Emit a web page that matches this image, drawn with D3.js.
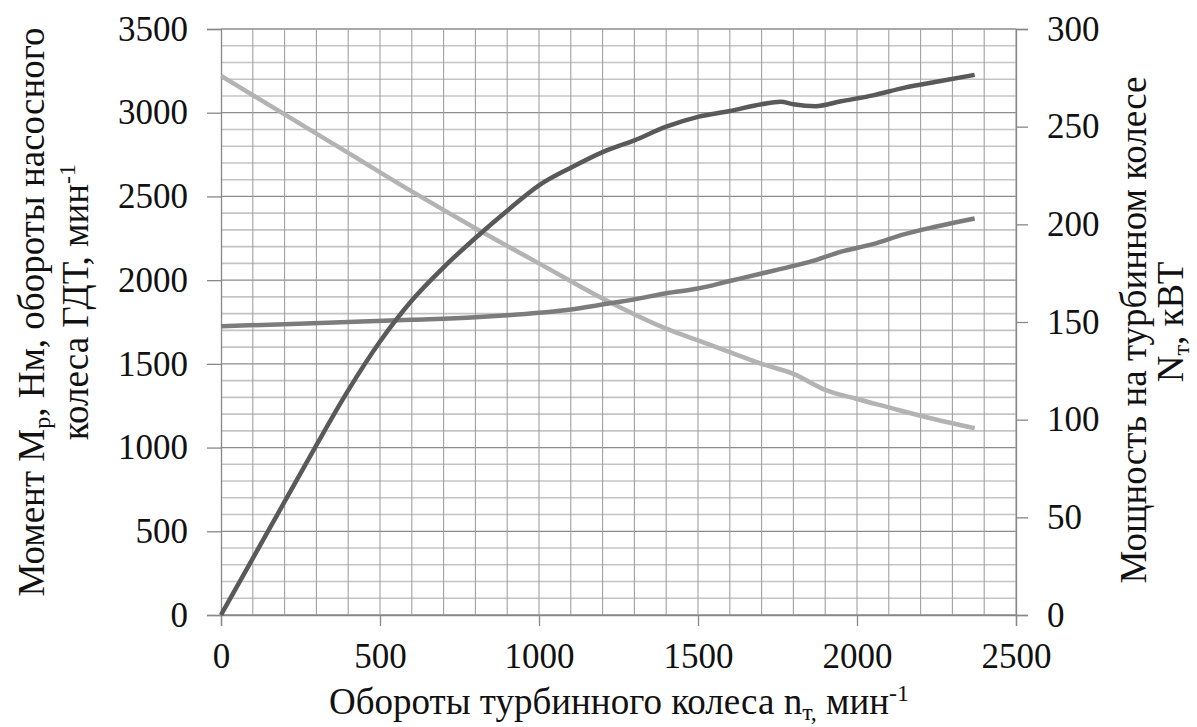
<!DOCTYPE html>
<html>
<head>
<meta charset="utf-8">
<script src="https://cdn.jsdelivr.net/npm/d3@7"></script>
<style>
  body { margin: 0; background: #fff; }
  svg text { font-family: "Liberation Serif", "Times New Roman", serif; fill: #111; }
</style>
</head>
<body>
<div id="chart"></div>
<script>
// turbine wheel speed, min^-1
let speedPower = [0, 100, 200, 300, 400, 500, 600, 700, 800, 900, 1000, 1100, 1200, 1300, 1400, 1500, 1600, 1700, 1760, 1800, 1870, 1950, 2050, 2150, 2250, 2370];
// power on turbine wheel, kW (right axis)
let power = [0, 29, 58, 87, 115, 140, 161, 178, 193, 207, 220, 229, 237, 243, 250, 255, 258, 261.5, 262.8, 261.5, 260.5, 263, 266, 270, 273, 276.5];

let speedPump = [0, 200, 400, 600, 800, 900, 1000, 1100, 1200, 1300, 1400, 1500, 1600, 1700, 1800, 1870, 1950, 2050, 2150, 2250, 2370];
// pump wheel speed, min^-1 (left axis)
let pumpSpeed = [1725, 1737, 1750, 1763, 1778, 1790, 1805, 1825, 1855, 1885, 1922, 1950, 1995, 2040, 2085, 2120, 2170, 2215, 2275, 2320, 2368];

let speedTorque = [0, 200, 400, 600, 800, 1000, 1200, 1400, 1500, 1600, 1700, 1800, 1900, 2000, 2100, 2200, 2370];
// torque M_p, Nm (left axis)
let torque = [3220, 2990, 2760, 2530, 2310, 2100, 1890, 1710, 1640, 1570, 1500, 1440, 1345, 1290, 1240, 1190, 1115];

let xTicks = [0, 500, 1000, 1500, 2000, 2500];
let yLeftTicks = [0, 500, 1000, 1500, 2000, 2500, 3000, 3500];
let yRightTicks = [0, 50, 100, 150, 200, 250, 300];

let W = 1197, H = 727;
let plot = {left: 221, right: 1016, top: 29, bottom: 615};
let serif = "'Liberation Serif', 'Times New Roman', serif";

let svg = d3.select("#chart").append("svg")
    .attr("width", W)
    .attr("height", H)
    .attr("font-family", serif);

let x = d3.scaleLinear().domain([0, 2500]).range([plot.left, plot.right]);
let yL = d3.scaleLinear().domain([0, 3500]).range([plot.bottom, plot.top]);
let yR = d3.scaleLinear().domain([0, 300]).range([plot.bottom, plot.top]);

// grid
let grid = svg.append("g");
grid.selectAll(".hmin")
    .data(d3.range(0, 3501, 100))
    .enter().append("line")
    .attr("x1", plot.left).attr("x2", plot.right)
    .attr("y1", d => yL(d)).attr("y2", d => yL(d))
    .attr("stroke", d => d % 500 == 0 ? "#8c8c8c" : "#c4c4c4")
    .attr("stroke-width", d => d % 500 == 0 ? 1.3 : 1.6);
grid.selectAll(".vmin")
    .data(d3.range(100, 2501, 100))
    .enter().append("line")
    .attr("x1", d => x(d)).attr("x2", d => x(d))
    .attr("y1", plot.top).attr("y2", plot.bottom)
    .attr("stroke", "#a0a0a0")
    .attr("stroke-width", 1.1);

// axes
let axisColor = "#888";
let fmt = d3.format("d");
let xAxis = svg.append("g")
    .attr("transform", "translate(0," + plot.bottom + ")")
    .call(d3.axisBottom(x).tickValues(xTicks).tickFormat(fmt).tickSize(11).tickPadding(14));
let yAxisL = svg.append("g")
    .attr("transform", "translate(" + plot.left + ",0)")
    .call(d3.axisLeft(yL).tickValues(yLeftTicks).tickFormat(fmt).tickSize(14).tickPadding(19));
let yAxisR = svg.append("g")
    .attr("transform", "translate(" + plot.right + ",0)")
    .call(d3.axisRight(yR).tickValues(yRightTicks).tickFormat(fmt).tickSize(12).tickPadding(19));

[xAxis, yAxisL, yAxisR].forEach(function(a) {
    a.attr("font-family", serif);
    a.select(".domain").attr("stroke", axisColor).attr("stroke-width", 1.3);
    a.selectAll(".tick line").attr("stroke", axisColor).attr("stroke-width", 1.3);
    a.selectAll(".tick text")
        .attr("fill", "#111")
        .style("font-family", serif)
        .style("font-size", "35px");
});
xAxis.selectAll(".tick text").attr("dy", "0.8em");

// curves
let line = d3.line().curve(d3.curveMonotoneX);

svg.append("path")
    .datum(speedTorque.map((s, i) => [x(s), yL(torque[i])]))
    .attr("d", line)
    .attr("fill", "none")
    .attr("stroke", "#b3b3b3")
    .attr("stroke-width", 4.5);

svg.append("path")
    .datum(speedPump.map((s, i) => [x(s), yL(pumpSpeed[i])]))
    .attr("d", line)
    .attr("fill", "none")
    .attr("stroke", "#7c7c7c")
    .attr("stroke-width", 4.5);

svg.append("path")
    .datum(speedPower.map((s, i) => [x(s), yR(power[i])]))
    .attr("d", line)
    .attr("fill", "none")
    .attr("stroke", "#595959")
    .attr("stroke-width", 4.5);

// axis titles
let titleSize = "37px";
let subSize = "24px";

function addTitle(tx, ty, rotate) {
    return svg.append("text")
        .attr("transform", "translate(" + tx + "," + ty + ")" + (rotate ? " rotate(-90)" : ""))
        .attr("text-anchor", "middle")
        .style("font-family", serif)
        .style("font-size", titleSize);
}

let xt = addTitle(619, 714, false);
xt.append("tspan").text("Обороты турбинного колеса n");
xt.append("tspan").attr("baseline-shift", "-25%").style("font-size", subSize).text("т,");
xt.append("tspan").text(" мин");
xt.append("tspan").attr("baseline-shift", "super").style("font-size", subSize).text("-1");

let lt1 = addTitle(44, 312, true);
lt1.append("tspan").text("Момент M");
lt1.append("tspan").attr("baseline-shift", "-25%").style("font-size", subSize).text("р");
lt1.append("tspan").text(", Нм, обороты насосного");

let lt2 = addTitle(88, 302, true);
lt2.append("tspan").text("колеса ГДТ, мин");
lt2.append("tspan").attr("baseline-shift", "super").style("font-size", subSize).text("-1");

let rt1 = addTitle(1146, 330, true);
rt1.text("Мощность на турбинном колесе");

let rt2 = addTitle(1183, 322, true);
rt2.append("tspan").text("N");
rt2.append("tspan").attr("baseline-shift", "-25%").style("font-size", subSize).text("т");
rt2.append("tspan").text(", кВТ");
</script>
</body>
</html>
